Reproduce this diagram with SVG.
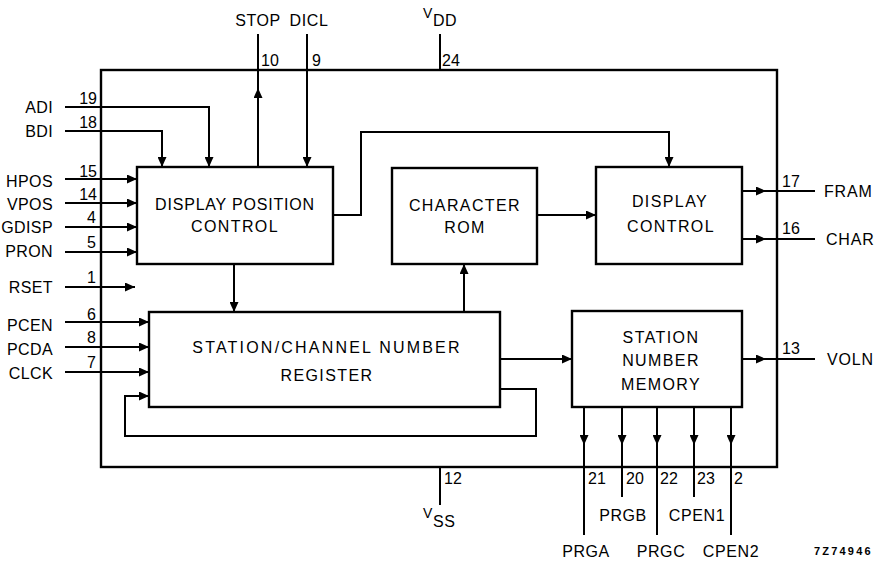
<svg xmlns="http://www.w3.org/2000/svg" width="882" height="561" viewBox="0 0 882 561">
<defs>
<marker id="arr" markerWidth="10" markerHeight="9" refX="10" refY="4.5" orient="auto" markerUnits="userSpaceOnUse">
<path d="M0,0 L10,4.5 L0,9 z" fill="#000"/>
</marker>
<style>
.box{fill:none;stroke:#000;stroke-width:2.4}
.ln{fill:none;stroke:#000;stroke-width:2}
.a{marker-end:url(#arr)}
text{font-family:"Liberation Sans",Arial,sans-serif;font-size:16px;fill:#000}
.bt{text-anchor:middle;letter-spacing:1.4px}
.lbl{text-anchor:end;letter-spacing:0.4px}
.numr{text-anchor:end}
.mid{text-anchor:middle;letter-spacing:0.6px}
</style>
</defs>
<rect width="882" height="561" fill="#fff"/>

<g id="chip">
<rect class="box" x="101" y="70" width="676" height="397"/>
</g>

<g id="display-position-control">
<rect class="box" x="137" y="167" width="196" height="97"/>
<text class="bt" x="235" y="210" style="letter-spacing:0.8px">DISPLAY POSITION</text>
<text class="bt" x="235" y="232">CONTROL</text>
</g>

<g id="character-rom">
<rect class="box" x="392" y="168" width="145" height="96"/>
<text class="bt" x="465" y="211">CHARACTER</text>
<text class="bt" x="465" y="233">ROM</text>
</g>

<g id="display-control">
<rect class="box" x="596" y="167" width="146" height="97"/>
<text class="bt" x="670" y="207">DISPLAY</text>
<text class="bt" x="671" y="232">CONTROL</text>
</g>

<g id="station-channel-register">
<rect class="box" x="149" y="312" width="351" height="95"/>
<text class="bt" x="327" y="353" style="letter-spacing:2.2px">STATION/CHANNEL NUMBER</text>
<text class="bt" x="327" y="381">REGISTER</text>
</g>

<g id="station-number-memory">
<rect class="box" x="572" y="311" width="170" height="96"/>
<text class="bt" x="661" y="343">STATION</text>
<text class="bt" x="661" y="366">NUMBER</text>
<text class="bt" x="661" y="390">MEMORY</text>
</g>

<g id="connectors">
<path class="ln a" d="M65,107 H209 V167"/>
<path class="ln a" d="M65,131 H162 V167"/>
<path class="ln a" d="M65,179 H137"/>
<path class="ln a" d="M65,203 H137"/>
<path class="ln a" d="M65,227 H137"/>
<path class="ln a" d="M65,252 H137"/>
<path class="ln a" d="M65,287 H135"/>
<path class="ln a" d="M65,322 H149"/>
<path class="ln a" d="M65,347 H149"/>
<path class="ln a" d="M65,372 H149"/>
<path class="ln a" d="M258,167 V88"/>
<path class="ln" d="M258,88 V34"/>
<path class="ln a" d="M307,34 V167"/>
<path class="ln" d="M440,34 V70"/>
<path class="ln a" d="M234,264 V312"/>
<path class="ln a" d="M464,312 V264"/>
<path class="ln a" d="M333,215 H361 V132 H669 V167"/>
<path class="ln a" d="M537,215 H596"/>
<path class="ln a" d="M500,359 H572"/>
<path class="ln a" d="M500,389 H536 V436 H125 V396 H149"/>
<path class="ln a" d="M742,191 H766"/><path class="ln" d="M766,191 H815"/>
<path class="ln a" d="M742,239 H766"/><path class="ln" d="M766,239 H815"/>
<path class="ln a" d="M742,359 H766"/><path class="ln" d="M766,359 H815"/>
<path class="ln a" d="M584,407 V445"/><path class="ln" d="M584,445 V535"/>
<path class="ln a" d="M622,407 V445"/><path class="ln" d="M622,445 V497"/>
<path class="ln a" d="M657,407 V445"/><path class="ln" d="M657,445 V535"/>
<path class="ln a" d="M694,407 V445"/><path class="ln" d="M694,445 V497"/>
<path class="ln a" d="M731,407 V445"/><path class="ln" d="M731,445 V535"/>
<path class="ln" d="M440,467 V505"/>
</g>

<g id="pin-labels">
<text class="lbl" x="53" y="113">ADI</text>
<text class="lbl" x="53" y="137">BDI</text>
<text class="lbl" x="53" y="187">HPOS</text>
<text class="lbl" x="53" y="210">VPOS</text>
<text class="lbl" x="53" y="233">GDISP</text>
<text class="lbl" x="53" y="257">PRON</text>
<text class="lbl" x="53" y="293">RSET</text>
<text class="lbl" x="53" y="331">PCEN</text>
<text class="lbl" x="53" y="355">PCDA</text>
<text class="lbl" x="53" y="379">CLCK</text>

<text class="numr" x="97" y="104">19</text>
<text class="numr" x="97" y="128">18</text>
<text class="numr" x="97" y="177">15</text>
<text class="numr" x="97" y="200">14</text>
<text class="numr" x="96" y="223">4</text>
<text class="numr" x="96" y="248">5</text>
<text class="numr" x="96" y="283">1</text>
<text class="numr" x="96" y="320">6</text>
<text class="numr" x="96" y="343">8</text>
<text class="numr" x="96" y="368">7</text>

<text class="mid" x="258" y="26">STOP</text>
<text class="mid" x="309" y="26">DICL</text>
<text x="261" y="66">10</text>
<text x="312" y="66">9</text>
<text x="442" y="66">24</text>
<text x="423" y="18" style="font-size:14px">V</text>
<text x="433" y="26" style="letter-spacing:0.5px">DD</text>

<text x="782" y="187">17</text>
<text x="782" y="234">16</text>
<text x="782" y="354">13</text>
<text x="824" y="197" style="letter-spacing:0.8px">FRAM</text>
<text x="826" y="245" style="letter-spacing:0.8px">CHAR</text>
<text x="827" y="365" style="letter-spacing:0.8px">VOLN</text>

<text x="444" y="484">12</text>
<text x="423" y="518" style="font-size:14px">V</text>
<text x="433" y="527" style="letter-spacing:0.5px">SS</text>

<text x="588" y="484">21</text>
<text x="626" y="484">20</text>
<text x="660" y="484">22</text>
<text x="697" y="484">23</text>
<text x="734" y="484">2</text>
<text class="mid" x="623" y="521">PRGB</text>
<text class="mid" x="697" y="521">CPEN1</text>
<text class="mid" x="586" y="557">PRGA</text>
<text class="mid" x="661" y="557">PRGC</text>
<text class="mid" x="731" y="557">CPEN2</text>
<text x="814" y="555" style="font-size:11px;font-weight:bold;letter-spacing:2.2px">7Z74946</text>
</g>
</svg>
